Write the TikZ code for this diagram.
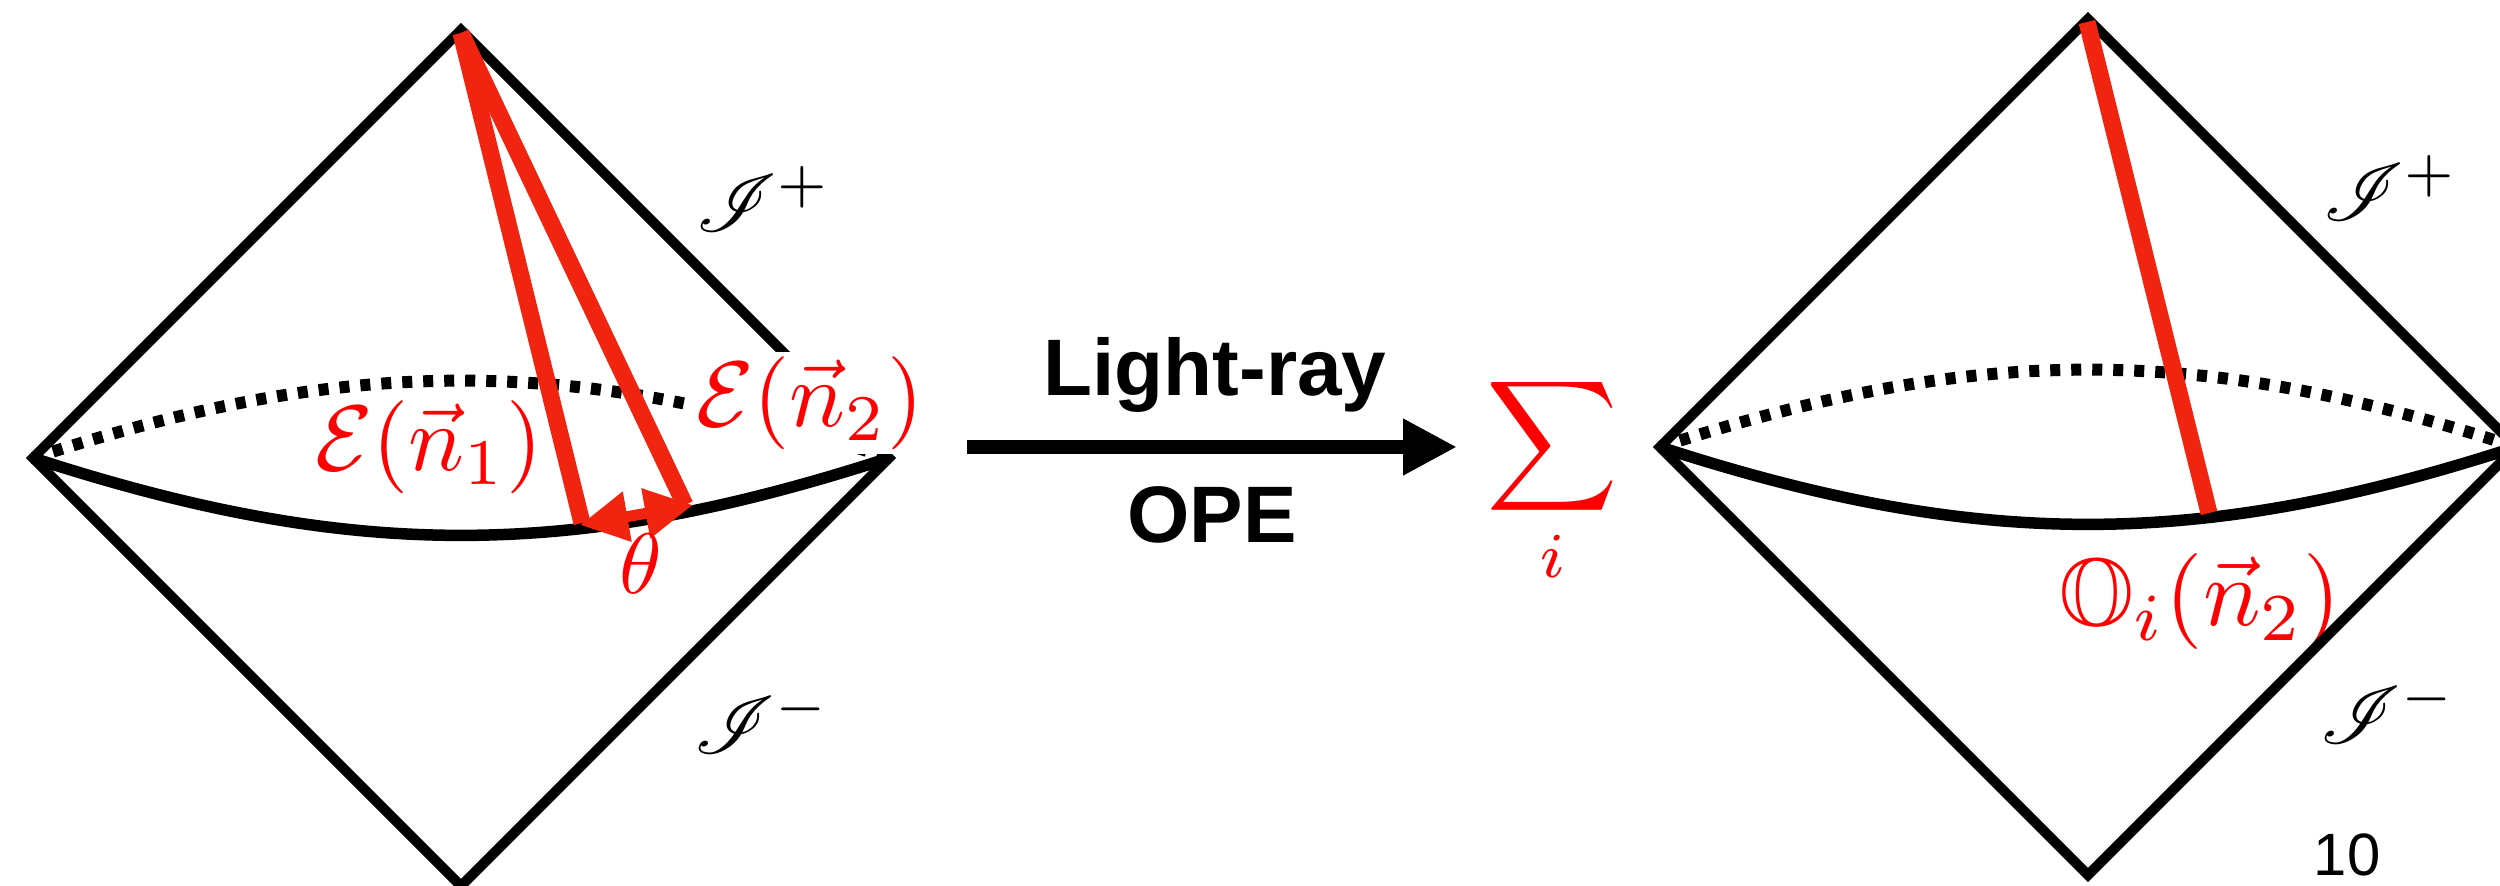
\documentclass[tikz,border=0pt]{standalone}
\usepackage{amsmath,amssymb,mathrsfs}
\usepackage{fontspec}
\newfontfamily\arrowfont{Liberation Sans}
\usetikzlibrary{arrows.meta,positioning}
\definecolor{raycolor}{HTML}{F0240F}

\begin{document}
\begin{tikzpicture}[x=1cm,y=1cm]
\tikzset{
  diamondedge/.style={draw=black,line width=0.1cm,line join=miter},
  solidarc/.style={draw=black,line width=0.115cm},
  dottedarc/.style={draw=black,line width=0.12cm,dash pattern=on 0.10cm off 0.11cm},
  rayline/.style={draw=raycolor,line width=0.17cm},
  anglearrow/.style={draw=raycolor,line width=0.11cm,{Triangle[length=0.48cm,width=0.48cm]}-{Triangle[length=0.48cm,width=0.48cm]}},
  opearrow/.style={draw=black,line width=0.135cm,-{Triangle[length=0.54cm,width=0.53cm]}},
  redlabel/.style={text=red,inner sep=0.5pt,scale=2.65},
  scrilabel/.style={text=black,inner sep=0pt,scale=2.3},
  opelabel/.style={inner sep=0pt,font=\arrowfont\bfseries\fontsize{22.8}{27}\selectfont}
}
\useasboundingbox (0,0) rectangle (25,8.85);
% left diamond
\coordinate (l_west) at (0.33,4.27);
\coordinate (l_north) at (4.61,8.55);
\coordinate (l_east) at (8.89,4.27);
\coordinate (l_south) at (4.61,-0.01);
\coordinate (l_ray1) at (5.82,3.62);
\coordinate (l_ray2) at (6.85,3.80);
\coordinate (l_raytop) at (4.61,8.52);
\coordinate (l_tip1) at (5.80,3.60);
\coordinate (l_tip2) at (6.93,3.80);
% right diamond
\coordinate (r_west) at (16.60,4.38);
\coordinate (r_north) at (20.88,8.66);
\coordinate (r_east) at (25.16,4.38);
\coordinate (r_south) at (20.88,0.10);
\coordinate (r_raytop) at (20.87,8.63);
\coordinate (r_ray) at (22.09,3.72);
% middle arrow
\coordinate (a_start) at (9.67,4.38);
\coordinate (a_end) at (14.57,4.38);

\node[redlabel,scale=1.03] (n_opi) at (22.00,2.83) {$\mathbb{O}_i(\vec{n}_2)$};
\draw[diamondedge] (l_west) -- (l_north) -- (l_east) -- (l_south) -- cycle;
\draw[diamondedge] (r_west) -- (r_north) -- (r_east) -- (r_south) -- cycle;
\draw[dottedarc] (l_west) to[bend left=18] (l_east);
\draw[dottedarc] (r_west) to[bend left=18] (r_east);
\draw[solidarc] (l_west) to[bend right=18] (l_east);
\draw[solidarc] (r_west) to[bend right=18] (r_east);
\draw[rayline] (l_raytop) -- (l_ray1);
\draw[rayline] (l_raytop) -- (l_ray2);
\draw[rayline] (r_raytop) -- (r_ray);
\draw[anglearrow] (l_tip1) -- (l_tip2);
\draw[opearrow] (a_start) -- (a_end);

\node[redlabel] (n_e1) at (4.29,4.38) {$\mathcal{E}(\vec{n}_1)$};
\node[redlabel,fill=white] (n_e2) at (8.10,4.82) {$\mathcal{E}(\vec{n}_2)$};
\node[redlabel,scale=0.92] (n_theta) at (6.41,3.21) {$\theta$};
\node[redlabel,scale=0.98] (n_sum) at (15.52,4.05) {$\displaystyle\sum_i$};
\node[scrilabel] (n_lplus) at (7.64,6.86) {$\mathscr{I}^+$};
\node[scrilabel] (n_lminus) at (7.62,1.64) {$\mathscr{I}^-$};
\node[scrilabel] (n_rplus) at (23.91,6.97) {$\mathscr{I}^+$};
\node[scrilabel] (n_rminus) at (23.88,1.74) {$\mathscr{I}^-$};
\node[opelabel] (n_light) at (12.15,5.10) {Light-ray};
\node[opelabel] (n_ope) at (12.12,3.70) {OPE};
\node[inner sep=0pt,font=\arrowfont\fontsize{17}{20}\selectfont] (n_page) at (23.47,0.30) {10};
\end{tikzpicture}
\end{document}
